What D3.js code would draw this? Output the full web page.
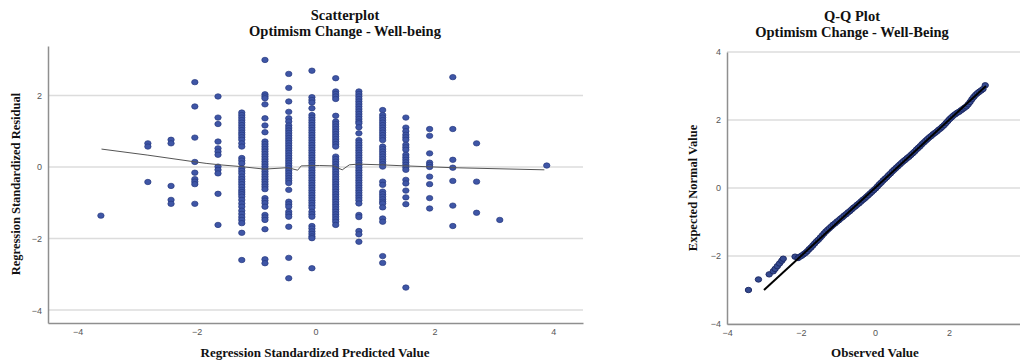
<!DOCTYPE html>
<html>
<head>
<meta charset="utf-8">
<script src="https://cdn.jsdelivr.net/npm/d3@7"></script>
<style>
  body { margin: 0; background: #fff; }
  .tick text { font-family: "Liberation Sans", Arial, sans-serif; font-size: 9px; fill: #555; }
  .title, .axis-label { font-family: "Liberation Serif", "Times New Roman", serif; font-weight: bold; fill: #111; }
</style>
</head>
<body>
<svg id="chart" width="1020" height="361"></svg>
<script>
// --- scatterplot data: predicted value levels and the residuals at each level
var predictedLevels = [-3.61, -2.82, -2.43, -2.03, -1.64, -1.24, -0.85, -0.45, -0.06,
                       0.34, 0.73, 1.13, 1.52, 1.92, 2.31, 2.71, 3.10, 3.89];
var residualsByLevel = [
  [-1.36],
  [0.66, 0.57, -0.42],
  [0.76, 0.66, -0.53, -0.92, -1.03],
  [2.37, 1.69, 0.82, 0.14, -0.16, -0.34, -0.41, -0.48, -1.03],
  [1.97, 1.38, 1.20, 0.71, 0.52, 0.43, 0.34, 0.01, -0.08, -0.18, -0.75, -1.62],
  [1.52, 1.45, 1.38, 1.31, 1.24, 1.17, 1.10, 1.03, 0.96, 0.90, 0.83, 0.76, 0.66, 0.57, 0.25, 0.18, 0.10,
   -0.04, -0.11, -0.18, -0.27, -0.34, -0.41, -0.48, -0.56, -0.64, -0.70, -0.76, -0.83, -0.92, -1.02,
   -1.11, -1.22, -1.31, -1.40, -1.48, -1.57, -1.84, -2.60],
  [2.99, 2.03, 1.97, 1.92, 1.75, 1.36, 1.16, 0.97, 0.71, 0.64, 0.57, 0.50, 0.43, 0.36, 0.29, 0.22, 0.15,
   0.08, 0.01, -0.06, -0.13, -0.20, -0.27, -0.34, -0.41, -0.48, -0.55, -0.62, -0.87, -0.94, -1.01,
   -1.11, -1.34, -1.41, -1.48, -1.74, -2.58, -2.69],
  [2.60, 2.21, 1.83, 1.54, 1.36, 1.27, 1.16, 1.09, 1.02, 0.95, 0.88, 0.81, 0.74, 0.67, 0.60, 0.53, 0.46,
   0.39, 0.32, 0.25, 0.18, 0.11, 0.04, -0.03, -0.10, -0.17, -0.24, -0.31, -0.38, -0.45, -0.64, -0.97,
   -1.04, -1.11, -1.25, -1.32, -1.39, -1.67, -2.54, -3.11],
  [2.69, 1.95, 1.87, 1.80, 1.64, 1.45, 1.38, 1.31, 1.24, 1.17, 1.10, 1.03, 0.96, 0.89, 0.82, 0.75, 0.68,
   0.61, 0.54, 0.47, 0.40, 0.33, 0.26, 0.19, 0.12, 0.05, -0.02, -0.09, -0.16, -0.23, -0.30, -0.37,
   -0.44, -0.51, -0.58, -0.65, -0.72, -0.79, -0.86, -0.93, -1.00, -1.07, -1.14, -1.25, -1.32, -1.39,
   -1.65, -1.72, -1.80, -1.87, -1.94, -1.99, -2.83],
  [2.48, 2.11, 2.04, 1.97, 1.90, 1.43, 1.27, 1.20, 1.13, 1.06, 0.99, 0.92, 0.85, 0.78, 0.71, 0.64, 0.57,
   0.29, 0.22, 0.15, 0.08, 0.01, -0.06, -0.13, -0.20, -0.27, -0.34, -0.41, -0.48, -0.55, -0.62, -0.69,
   -0.76, -0.83, -0.90, -0.97, -1.04, -1.11, -1.18, -1.25, -1.32, -1.39, -1.46, -1.53, -1.62],
  [2.11, 2.04, 1.97, 1.90, 1.83, 1.76, 1.69, 1.62, 1.55, 1.48, 1.41, 1.34, 1.27, 1.22, 1.11, 0.94, 0.75,
   0.68, 0.61, 0.54, 0.47, 0.40, 0.33, 0.26, 0.19, 0.12, 0.05, -0.02, -0.09, -0.16, -0.23, -0.30, -0.37,
   -0.44, -0.51, -0.58, -0.65, -0.72, -0.79, -0.86, -0.93, -1.02, -1.34, -1.40, -1.79, -1.88, -2.09],
  [1.59, 1.45, 1.38, 1.31, 1.24, 1.17, 1.10, 1.03, 0.96, 0.89, 0.82, 0.75, 0.57, 0.50, 0.43, 0.36, 0.29,
   0.22, 0.15, 0.08, 0.01, -0.41, -0.50, -0.69, -0.76, -0.83, -0.90, -0.97, -1.02, -1.13, -1.44, -1.53,
   -2.49, -2.68],
  [1.38, 1.10, 1.00, 0.90, 0.83, 0.76, 0.62, 0.55, 0.48, 0.34, 0.27, 0.20, 0.13, 0.06, -0.01, -0.08,
   -0.36, -0.46, -0.66, -0.85, -1.04, -3.37],
  [1.06, 0.87, 0.38, 0.12, 0.06, 0.00, -0.27, -0.48, -0.87, -1.16],
  [2.51, 1.06, 0.20, -0.02, -0.39, -1.08, -1.65],
  [0.66, -0.41, -1.28],
  [-1.48],
  [0.04]
];
// fit line (loess) through the scatter
var fitX = [-3.60, -2.82, -2.06, -1.84, -1.61, -1.25, -0.86, -0.47, -0.30, -0.24, 0.07, 0.30, 0.45, 0.57, 0.72, 1.10, 1.51, 2.30, 3.85];
var fitY = [0.50, 0.33, 0.15, 0.10, 0.06, 0.01, -0.06, -0.02, -0.09, 0.03, 0.04, 0.03, -0.08, 0.06, 0.08, 0.06, 0.03, -0.02, -0.08];

// --- Q-Q plot data
var qqObserved = [-3.42, -3.15, -2.86, -2.75, -2.70, -2.64, -2.58, -2.52, -2.48, -2.16,
  -2.08, -2.03, -1.98, -1.93, -1.88, -1.83, -1.78, -1.73, -1.68, -1.63, -1.58, -1.53, -1.48, -1.43,
  -1.38, -1.33, -1.28, -1.23, -1.18, -1.13, -1.08, -1.03, -0.98, -0.93, -0.88, -0.83, -0.78, -0.73,
  -0.68, -0.63, -0.58, -0.53, -0.48, -0.43, -0.38, -0.33, -0.28, -0.23, -0.18, -0.13, -0.08, -0.03,
  0.02, 0.07, 0.12, 0.17, 0.22, 0.27, 0.32, 0.37, 0.42, 0.47, 0.52, 0.57, 0.62, 0.67, 0.72, 0.77,
  0.82, 0.87, 0.92, 0.97, 1.02, 1.07, 1.12, 1.17, 1.22, 1.27, 1.32, 1.37, 1.42, 1.47, 1.52, 1.57,
  1.62, 1.67, 1.72, 1.77, 1.82, 1.87, 1.92, 1.97, 2.02, 2.07, 2.12, 2.17, 2.22, 2.27, 2.32, 2.37,
  2.42, 2.47, 2.52, 2.57, 2.62, 2.67, 2.72, 2.77, 2.82, 2.87, 2.92, 2.98];
var qqExpected = [-3.00, -2.69, -2.54, -2.45, -2.38, -2.30, -2.22, -2.14, -2.08, -2.02,
  -2.06, -2.02, -1.99, -1.95, -1.91, -1.86, -1.80, -1.75, -1.69, -1.63, -1.57, -1.52, -1.46, -1.40,
  -1.34, -1.28, -1.23, -1.18, -1.13, -1.08, -1.04, -0.99, -0.95, -0.90, -0.86, -0.81, -0.77, -0.72,
  -0.68, -0.63, -0.58, -0.54, -0.49, -0.45, -0.40, -0.35, -0.31, -0.26, -0.21, -0.16, -0.11, -0.06,
  -0.01, 0.05, 0.11, 0.16, 0.22, 0.27, 0.32, 0.38, 0.43, 0.49, 0.54, 0.59, 0.64, 0.69, 0.74, 0.79,
  0.83, 0.88, 0.92, 0.97, 1.02, 1.07, 1.13, 1.18, 1.23, 1.29, 1.34, 1.39, 1.44, 1.49, 1.53, 1.58,
  1.62, 1.66, 1.71, 1.75, 1.80, 1.85, 1.91, 1.97, 2.03, 2.08, 2.13, 2.17, 2.21, 2.24, 2.28, 2.32,
  2.36, 2.40, 2.46, 2.53, 2.61, 2.68, 2.74, 2.79, 2.83, 2.87, 2.91, 3.02];
var qqLineEnds = [-3, 3];

var leftTicks = [-4, -2, 0, 2, 4];
var rightTicks = [-4, -2, 0, 2, 4];

var dotFill = "#3f56a6";
var dotStroke = "#27397f";
var gridColor = "#dcdcdc";
var axisColor = "#8f8f8f";

var svg = d3.select("#chart");

// ================= left: scatterplot =================
var x1 = d3.scaleLinear().domain([-4.5, 4.5]).range([48, 583]);
var y1 = d3.scaleLinear().domain([-4.36, 3.38]).range([323, 46]);

var g1 = svg.append("g");

g1.selectAll(".grid1")
  .data(leftTicks.filter(function (t) { return t >= y1.domain()[0] && t <= y1.domain()[1]; }))
  .enter().append("line")
    .attr("x1", x1.range()[0]).attr("x2", x1.range()[1])
    .attr("y1", function (d) { return y1(d); }).attr("y2", function (d) { return y1(d); })
    .attr("stroke", gridColor).attr("stroke-width", 1.5);

var scatterPoints = [];
predictedLevels.forEach(function (p, i) {
  residualsByLevel[i].forEach(function (r) { scatterPoints.push({ x: p, y: r }); });
});

g1.selectAll(".dot1")
  .data(scatterPoints)
  .enter().append("ellipse")
    .attr("cx", function (d) { return x1(d.x); })
    .attr("cy", function (d) { return y1(d.y); })
    .attr("rx", 3.2).attr("ry", 2.7)
    .attr("fill", dotFill).attr("stroke", dotStroke).attr("stroke-width", 0.7);

var fitLine = d3.line()
  .x(function (d, i) { return x1(fitX[i]); })
  .y(function (d, i) { return y1(fitY[i]); });
g1.append("path")
  .attr("d", fitLine(fitX))
  .attr("fill", "none").attr("stroke", "#555").attr("stroke-width", 1);

var yAxis1 = g1.append("g")
  .attr("transform", "translate(" + x1.range()[0] + ",0)")
  .call(d3.axisLeft(y1).tickValues(leftTicks.slice(0, 4)).tickSize(0).tickPadding(6));
var xAxis1 = g1.append("g")
  .attr("transform", "translate(0," + y1.range()[0] + ")")
  .call(d3.axisBottom(x1).tickValues(leftTicks).tickSize(0).tickPadding(6));
[yAxis1, xAxis1].forEach(function (a) {
  a.select(".domain").attr("stroke", axisColor).attr("stroke-width", 1.5);
});

g1.append("text").attr("class", "title")
  .attr("x", 345).attr("y", 20).attr("text-anchor", "middle").attr("font-size", 14.5)
  .text("Scatterplot");
g1.append("text").attr("class", "title")
  .attr("x", 345).attr("y", 36).attr("text-anchor", "middle").attr("font-size", 14.5)
  .text("Optimism Change - Well-being");
g1.append("text").attr("class", "axis-label")
  .attr("x", 315).attr("y", 357).attr("text-anchor", "middle").attr("font-size", 13)
  .text("Regression Standardized Predicted Value");
g1.append("text").attr("class", "axis-label")
  .attr("transform", "translate(20,184) rotate(-90)")
  .attr("text-anchor", "middle").attr("font-size", 12.5)
  .text("Regression Standardized Residual");

// ================= right: Q-Q plot =================
var x2 = d3.scaleLinear().domain([-4, 3.92]).range([727, 1020]);
var y2 = d3.scaleLinear().domain([-4, 4]).range([324, 52]);

var g2 = svg.append("g");

g2.selectAll(".grid2")
  .data(rightTicks)
  .enter().append("line")
    .attr("x1", x2.range()[0]).attr("x2", x2.range()[1])
    .attr("y1", function (d) { return y2(d); }).attr("y2", function (d) { return y2(d); })
    .attr("stroke", gridColor).attr("stroke-width", 1.5);

var qqPoints = qqObserved.map(function (o, i) { return { x: o, y: qqExpected[i] }; });

g2.selectAll(".dot2")
  .data(qqPoints)
  .enter().append("ellipse")
    .attr("cx", function (d) { return x2(d.x); })
    .attr("cy", function (d) { return y2(d.y); })
    .attr("rx", 3.2).attr("ry", 2.7)
    .attr("fill", "#34498f").attr("stroke", "#1f2c66").attr("stroke-width", 1);

g2.append("line")
  .attr("x1", x2(qqLineEnds[0])).attr("y1", y2(qqLineEnds[0]))
  .attr("x2", x2(qqLineEnds[1])).attr("y2", y2(qqLineEnds[1]))
  .attr("stroke", "#000").attr("stroke-width", 2);

var yAxis2 = g2.append("g")
  .attr("transform", "translate(" + x2.range()[0] + ",0)")
  .call(d3.axisLeft(y2).tickValues(rightTicks).tickSize(0).tickPadding(6));
var xAxis2 = g2.append("g")
  .attr("transform", "translate(0," + y2.range()[0] + ")")
  .call(d3.axisBottom(x2).tickValues(rightTicks.slice(0, 4)).tickSize(0).tickPadding(6));
[yAxis2, xAxis2].forEach(function (a) {
  a.select(".domain").attr("stroke", axisColor).attr("stroke-width", 1.5);
});

g2.append("text").attr("class", "title")
  .attr("x", 852).attr("y", 21).attr("text-anchor", "middle").attr("font-size", 14.5)
  .text("Q-Q Plot");
g2.append("text").attr("class", "title")
  .attr("x", 852).attr("y", 37).attr("text-anchor", "middle").attr("font-size", 14.5)
  .text("Optimism Change - Well-Being");
g2.append("text").attr("class", "axis-label")
  .attr("x", 875).attr("y", 357).attr("text-anchor", "middle").attr("font-size", 13)
  .text("Observed Value");
g2.append("text").attr("class", "axis-label")
  .attr("transform", "translate(697,188) rotate(-90)")
  .attr("text-anchor", "middle").attr("font-size", 12.5)
  .text("Expected Normal Value");
</script>
</body>
</html>
